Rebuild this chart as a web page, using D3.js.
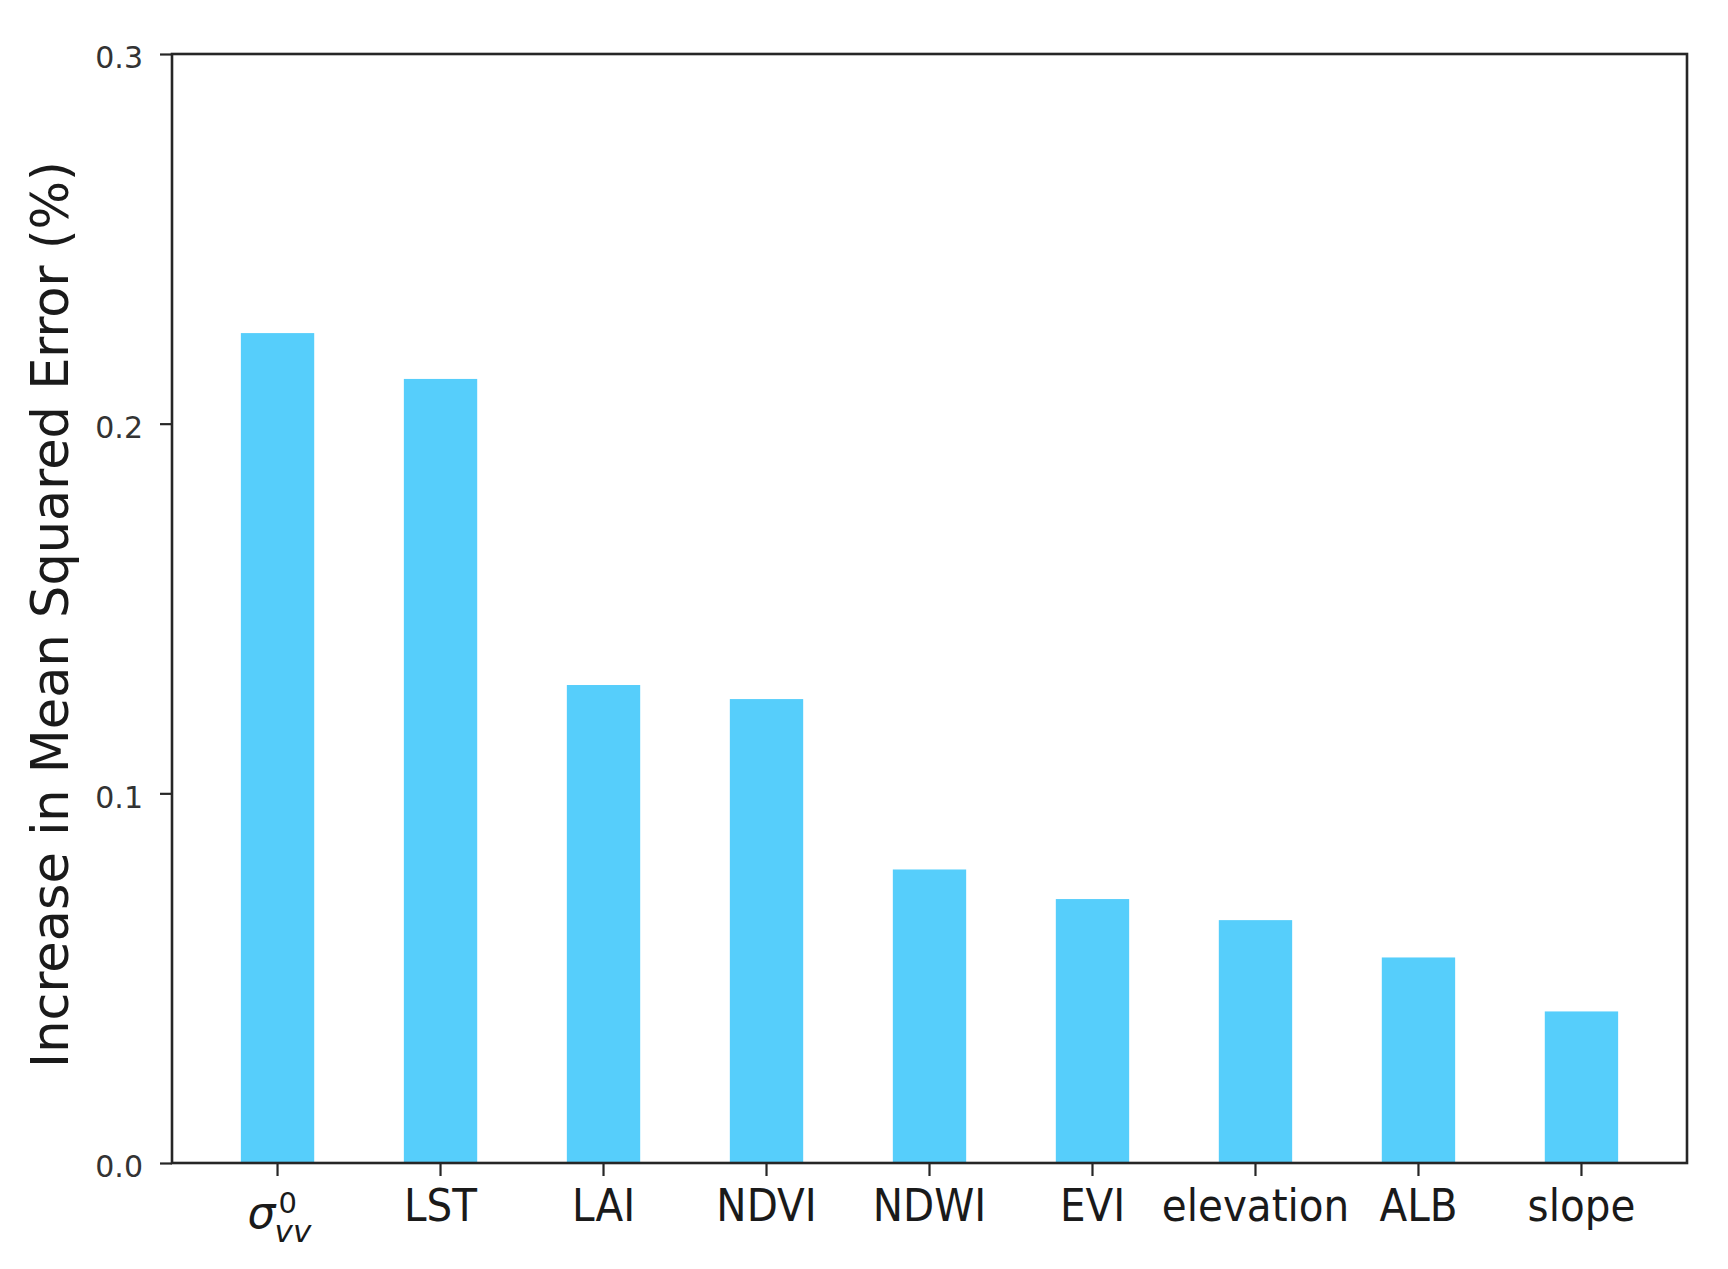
<!DOCTYPE html>
<html>
<head>
<meta charset="utf-8">
<script src="https://cdn.jsdelivr.net/npm/d3@7"></script>
<style>
  html, body { margin: 0; padding: 0; background: #fff; }
  svg { display: block; }
</style>
</head>
<body>
<svg id="chart" width="1728" height="1269"></svg>
<script>
// ---- data ----
const categories = ["σ_vv^0", "LST", "LAI", "NDVI", "NDWI", "EVI", "elevation", "ALB", "slope"];
const values = [0.2245, 0.2121, 0.1293, 0.1255, 0.0794, 0.0714, 0.0657, 0.0556, 0.0410];
const yTicks = [0.0, 0.1, 0.2, 0.3];
const yLabel = "Increase in Mean Squared Error (%)";

// ---- layout ----
const W = 1728, H = 1269;
const plot = { left: 172, right: 1687, top: 54, bottom: 1163 };
const barColor = "#56CEFB";
const axisColor = "#262626";

const svg = d3.select("#chart");
svg.append("rect").attr("width", W).attr("height", H).attr("fill", "#fff");

const x = d3.scaleBand()
  .domain(categories)
  .range([plot.left, plot.right])
  .paddingInner(0.55)
  .paddingOuter(0.4225);

const y = d3.scaleLinear().domain([0, 0.3]).range([plot.bottom, plot.top]);

// bars
svg.append("g").selectAll("rect")
  .data(categories.map((c, i) => ({ c, v: values[i] })))
  .join("rect")
  .attr("x", d => x(d.c))
  .attr("width", x.bandwidth())
  .attr("y", d => y(d.v))
  .attr("height", d => y(0) - y(d.v))
  .attr("fill", barColor);

// y axis
const yAxis = svg.append("g")
  .attr("transform", `translate(${plot.left},0)`)
  .call(d3.axisLeft(y).tickValues(yTicks).tickFormat(d3.format(".1f")).tickSize(12).tickPadding(17).tickSizeOuter(0));
yAxis.select(".domain").remove();
yAxis.selectAll(".tick line").attr("stroke", axisColor).attr("stroke-width", 2.2);
yAxis.selectAll(".tick text")
  .attr("dy", "0.46em")
  .attr("fill", "#333")
  .style("font-family", "'DejaVu Sans', sans-serif")
  .style("font-size", "30px");

// x axis
const xAxis = svg.append("g")
  .attr("transform", `translate(0,${plot.bottom})`)
  .call(d3.axisBottom(x).tickSize(13).tickPadding(0).tickSizeOuter(0));
xAxis.select(".domain").remove();
xAxis.selectAll(".tick line").attr("stroke", axisColor).attr("stroke-width", 2.2);
xAxis.selectAll(".tick text")
  .attr("y", 58).attr("dy", 0)
  .attr("fill", "#1a1a1a")
  .style("font-family", "'DejaVu Sans Condensed', 'DejaVu Sans', sans-serif")
  .style("font-stretch", "condensed")
  .style("font-size", "45px");

// math label for sigma: one text element with tspans
xAxis.selectAll(".tick").filter(d => d.includes("_")).each(function (d) {
  const g = d3.select(this);
  g.select("text").remove();
  const base = d.split("_")[0];
  const sub = d.split("_")[1].split("^")[0];
  const sup = d.split("^")[1];
  const t = g.append("text")
    .attr("x", -30).attr("y", 65)
    .attr("text-anchor", "start")
    .attr("fill", "#1a1a1a")
    .style("font-family", "'DejaVu Sans', sans-serif");
  t.append("tspan").text(base).style("font-style", "italic").style("font-size", "44px");
  t.append("tspan").text(sup).attr("x", 1).attr("y", 50).style("font-size", "29px");
  t.append("tspan").text(sub).attr("x", -3).attr("y", 79).style("font-style", "italic").style("font-size", "31px");
});

// frame (spines)
svg.append("rect")
  .attr("x", plot.left).attr("y", plot.top)
  .attr("width", plot.right - plot.left).attr("height", plot.bottom - plot.top)
  .attr("fill", "none").attr("stroke", axisColor).attr("stroke-width", 2.6);

// y label
svg.append("text")
  .attr("transform", `translate(68,${(plot.top + plot.bottom) / 2 + 6}) rotate(-90)`)
  .attr("text-anchor", "middle")
  .attr("fill", "#1a1a1a")
  .style("font-family", "'DejaVu Sans', sans-serif")
  .style("font-size", "51px")
  .text(yLabel);
</script>
</body>
</html>
